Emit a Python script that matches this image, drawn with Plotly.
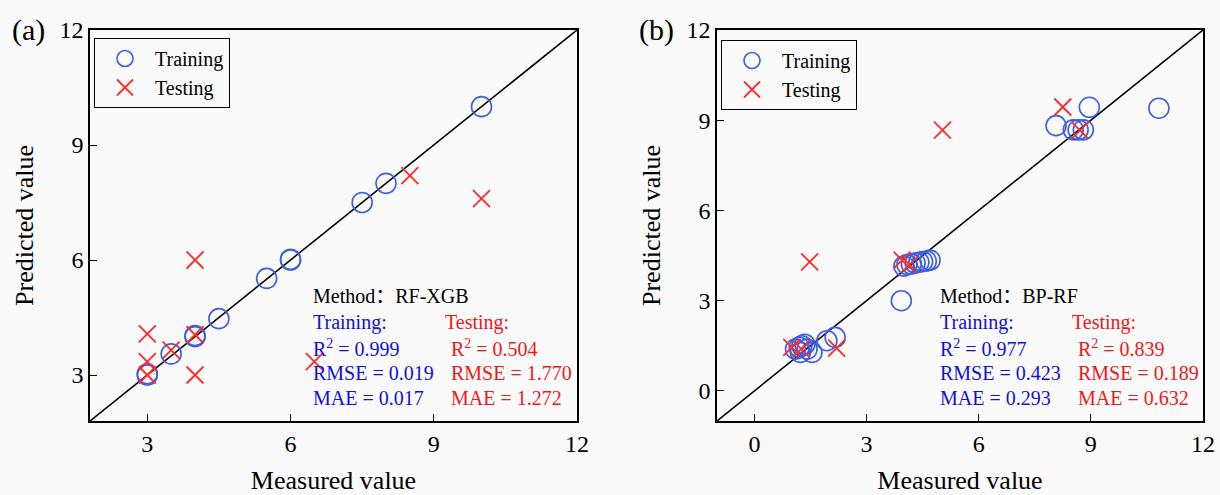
import plotly.graph_objects as go

# ---------------- data ----------------
a_train_x = [10, 8, 7.5, 6, 6, 5.5, 4.5, 4, 4, 3.5, 3, 3]
a_train_y = [10, 8, 7.5, 6, 6.02, 5.52, 4.47, 4, 4.03, 3.55, 3, 3.03]
a_test_x = [8.5, 10, 4, 3, 4, 3.5, 3, 3, 4, 6.5]
a_test_y = [8.2, 7.6, 6, 4.07, 4.05, 3.65, 3.35, 3, 3.0, 3.35]

b_train_x = [10.82, 8.96, 8.07, 8.53, 8.66, 8.80, 3.93,
             4.0, 4.08, 4.2, 4.3, 4.4, 4.5, 4.6, 4.7,
             1.10, 1.20, 1.27, 1.41, 1.54, 1.23, 1.35, 1.94, 2.16]
b_train_y = [9.40, 9.43, 8.82, 8.68, 8.68, 8.68, 3.0,
             4.15, 4.2, 4.22, 4.25, 4.28, 4.3, 4.32, 4.35,
             1.39, 1.45, 1.50, 1.39, 1.28, 1.28, 1.55, 1.67, 1.78]
b_test_x = [8.25, 5.03, 8.71, 1.48, 3.95, 4.15, 1.0, 2.2, 1.25]
b_test_y = [9.44, 8.67, 8.66, 4.29, 4.35, 4.2, 1.45, 1.42, 1.4]

a_range = [1.8, 12]
b_range = [-1, 12]
a_ticks = [3, 6, 9, 12]
b_ticks = [0, 3, 6, 9, 12]

a_method = "Method：RF-XGB"
b_method = "Method：BP-RF"
a_train_stats = ["R<sup>2</sup> = 0.999", "RMSE = 0.019", "MAE = 0.017"]
a_test_stats = ["R<sup>2</sup> = 0.504", "RMSE = 1.770", "MAE = 1.272"]
b_train_stats = ["R<sup>2</sup> = 0.977", "RMSE = 0.423", "MAE = 0.293"]
b_test_stats = ["R<sup>2</sup> = 0.839", "RMSE = 0.189", "MAE = 0.632"]

# ---------------- style ----------------
W, H = 1220, 495
FONT = "Liberation Serif, Noto Sans CJK SC, serif"
BLUE_M = "#3c5fe0"
RED_M = "#ff2a2a"
BLUE_T = "#1010e0"
RED_T = "#f01818"
BG = "#fafafa"

fig = go.Figure()

def add_panel(xa, ya, tx, ty, sx, sy, rng, legend):
    fig.add_trace(go.Scatter(x=rng, y=rng, mode="lines", line=dict(color="black", width=1.6),
                             xaxis=xa, yaxis=ya, showlegend=False, hoverinfo="skip"))
    fig.add_trace(go.Scatter(x=tx, y=ty, mode="markers", name="Training",
                             marker=dict(symbol="circle-open", size=20, color=BLUE_M,
                                         line=dict(width=1.6, color=BLUE_M)),
                             xaxis=xa, yaxis=ya, legend=legend))
    fig.add_trace(go.Scatter(x=sx, y=sy, mode="markers", name="Testing",
                             marker=dict(symbol="x-thin-open", size=17, color=RED_M,
                                         line=dict(width=1.8, color=RED_M)),
                             xaxis=xa, yaxis=ya, legend=legend))

add_panel("x", "y", a_train_x, a_train_y, a_test_x, a_test_y, a_range, "legend")
add_panel("x2", "y2", b_train_x, b_train_y, b_test_x, b_test_y, b_range, "legend2")

def ax(domain, rng, ticks, title, anchor):
    return dict(domain=domain, range=rng, tickvals=ticks, ticktext=[str(t) for t in ticks],
                showgrid=False, zeroline=False, showline=True, linecolor="black", linewidth=1.6,
                mirror=True, ticks="inside", ticklen=7, tickwidth=1.4, tickcolor="black",
                tickfont=dict(family=FONT, size=24, color="black"),
                title=dict(text=title, font=dict(family=FONT, size=26, color="black")),
                anchor=anchor, automargin=False)

ydom = [1 - 421 / H, 1 - 30 / H]
xa1 = ax([90 / W, 577 / W], a_range, a_ticks, "Measured value", "y")
xa1["title"]["standoff"] = 20
xa2 = ax([717 / W, 1203 / W], b_range, b_ticks, "Measured value", "y2")
xa2["title"]["standoff"] = 20
ya1 = ax(ydom, a_range, a_ticks, "Predicted value", "x")
ya1["title"]["standoff"] = 18
ya2 = ax(ydom, b_range, b_ticks, "Predicted value", "x2")
ya2["title"]["standoff"] = 18

leg_common = dict(bordercolor="black", borderwidth=1, bgcolor="rgba(0,0,0,0)",
                  font=dict(family=FONT, size=20, color="black"),
                  xanchor="left", yanchor="top", tracegroupgap=0, itemwidth=50)

annotations = []

def txt(x, y, s, color, size=20):
    annotations.append(dict(x=x / W, y=1 - y / H, xref="paper", yref="paper", text=s,
                            showarrow=False, xanchor="left", yanchor="middle",
                            font=dict(family=FONT, size=size, color=color)))

def stats(x0, x1, x1b, method, trs, tes):
    txt(x0, 296, method, "black")
    txt(x0, 322, "Training:", BLUE_T)
    txt(x1, 322, "Testing:", RED_T)
    for i, (a, b) in enumerate(zip(trs, tes)):
        y = 348 + 25 * i
        txt(x0, y, a, BLUE_T)
        txt(x1b, y, b, RED_T)

stats(311, 443, 449, a_method, a_train_stats, a_test_stats)
stats(938, 1070, 1076, b_method, b_train_stats, b_test_stats)
txt(10, 30, "(a)", "black", 30)
txt(637, 30, "(b)", "black", 30)

fig.update_layout(
    width=W, height=H, margin=dict(l=0, r=0, t=0, b=0, autoexpand=False),
    paper_bgcolor=BG, plot_bgcolor=BG,
    xaxis=xa1, yaxis=ya1, xaxis2=xa2, yaxis2=ya2,
    legend=dict(x=94 / W, y=1 - 38 / H, **leg_common),
    legend2=dict(x=721 / W, y=1 - 40 / H, **leg_common),
    annotations=annotations, showlegend=True,
)

fig.write_html("out.html")
